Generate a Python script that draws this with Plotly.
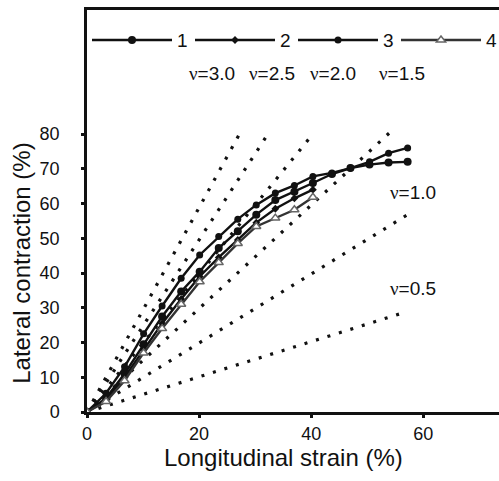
import plotly.graph_objects as go

# ---- data ----
strain = [0, 3.4, 6.7, 10.1, 13.4, 16.8, 20.1, 23.5, 26.9, 30.2, 33.6, 37.0,
          40.3, 43.7, 47.0, 50.4, 53.8, 57.2]
series1 = [0, 4.0, 11.0, 19.5, 27.5, 34.7, 40.4, 47.2, 52.0, 56.8, 61.0, 63.4,
           65.9, 68.5, 70.2, 71.2, 71.8, 72.0]
series2 = [0, 3.5, 10.0, 18.0, 25.5, 32.5, 39.0, 44.5, 49.5, 54.5, 58.5, 61.5, 64.0]
series3 = [0, 5.4, 13.0, 22.5, 30.5, 38.5, 45.2, 50.5, 55.5, 59.6, 63.0, 65.2,
           67.8, 68.8, 70.2, 72.0, 74.5, 76.0]
series4 = [0, 3.0, 9.0, 17.0, 24.0, 31.0, 37.5, 43.0, 48.5, 53.4, 55.8, 58.2, 61.8]
series_names = ["1", "2", "3", "4"]

nu_labels = ["3.0", "2.5", "2.0", "1.5", "1.0", "0.5"]
ref_end_x = [27.2, 32.2, 40.3, 54.0, 57.2, 56.3]
ref_end_y = [80.0, 79.8, 80.0, 80.4, 56.8, 28.5]

x_ticks = [0, 20, 40, 60]
y_ticks = [0, 10, 20, 30, 40, 50, 60, 70, 80]

FONT = "Liberation Sans, Arial, sans-serif"


def nu_text(lab):
    return ('<span style="font-family:Liberation Serif">\u03bd</span>'
            '<span style="font-family:Liberation Sans">=' + lab + '</span>')


fig = go.Figure()

# dotted reference lines
for ex, ey in zip(ref_end_x, ref_end_y):
    fig.add_trace(go.Scatter(
        x=[0, ex], y=[0, ey], mode="lines", showlegend=False, hoverinfo="skip",
        line=dict(color="#111", width=3.2, dash="3px,9px")))

styles = [
    dict(symbol="circle", size=8, color="#111", line=dict(color="#111", width=0)),
    dict(symbol="diamond", size=6, color="#111", line=dict(color="#111", width=0)),
    dict(symbol="circle", size=7, color="#111", line=dict(color="#111", width=0)),
    dict(symbol="triangle-up", size=8, color="white", line=dict(color="#666", width=1.5)),
]
line_cols = ["#111", "#111", "#111", "#333"]
data = [series1, series2, series3, series4]
for name, ys, st, lc in zip(series_names, data, styles, line_cols):
    fig.add_trace(go.Scatter(
        x=strain[:len(ys)], y=ys, mode="lines+markers", name=name,
        line=dict(color=lc, width=2.4), marker=st))

ann = []
top_pos = [0.303, 0.449, 0.597, 0.765]
for lab, xp in zip(nu_labels[:4], top_pos):
    ann.append(dict(x=xp, y=0.843, text=nu_text(lab)))
ann.append(dict(x=0.791, y=0.547, text=nu_text(nu_labels[4])))
ann.append(dict(x=0.791, y=0.308, text=nu_text(nu_labels[5])))
for a in ann:
    a.update(xref="paper", yref="paper", showarrow=False, xanchor="center",
             yanchor="middle", font=dict(size=19, color="#111", family=FONT))
ann.append(dict(x=-0.158, y=0.371, xref="paper", yref="paper", showarrow=False,
                xanchor="center", yanchor="middle",
                text="Lateral contraction (%)", textangle=-90,
                font=dict(size=24, color="#111", family=FONT)))
ann.append(dict(x=0.476, y=-0.114, xref="paper", yref="paper", showarrow=False,
                xanchor="center", yanchor="middle",
                text="Longitudinal strain (%)",
                font=dict(size=24, color="#111", family=FONT)))

fig.update_layout(
    width=499, height=481,
    margin=dict(l=87, r=0, t=10, b=69, autoexpand=False),
    paper_bgcolor="white", plot_bgcolor="white",
    font=dict(family=FONT, color="#111", size=18),
    showlegend=True,
    legend=dict(orientation="h", x=0, xanchor="left", y=0.925, yanchor="middle",
                bgcolor="rgba(0,0,0,0)", itemwidth=80, entrywidth=8,
                entrywidthmode="pixels", font=dict(size=19), tracegroupgap=0),
    annotations=ann,
    xaxis=dict(range=[0, 73.5], tickvals=x_ticks, showgrid=False, zeroline=False,
               showline=True, linecolor="#111", linewidth=2.5, mirror=True,
               ticks="outside", ticklen=3, tickwidth=2.5, tickcolor="#111",
               ticklabelstandoff=1, tickfont=dict(size=18)),
    yaxis=dict(range=[0, 115.7], tickvals=y_ticks, showgrid=False, zeroline=False,
               showline=True, linecolor="#111", linewidth=2.5,
               ticks="outside", ticklen=3, tickwidth=2.5, tickcolor="#111",
               ticklabelstandoff=18, tickfont=dict(size=18)),
)

fig.write_html("out.html")
